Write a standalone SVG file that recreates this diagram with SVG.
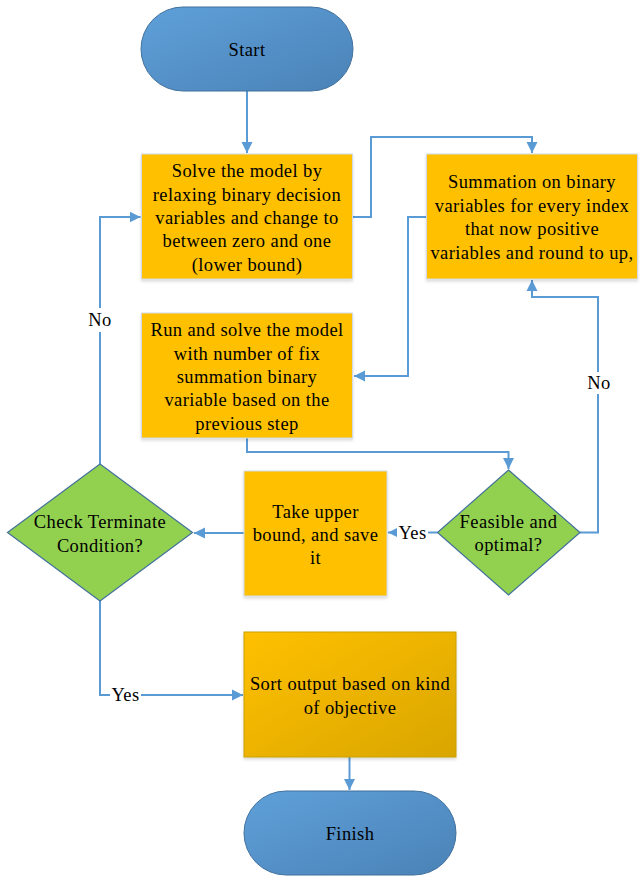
<svg xmlns="http://www.w3.org/2000/svg" width="644" height="884" viewBox="0 0 644 884">
<defs>
<style>
.t{font-family:"Liberation Serif","Times New Roman",serif;font-size:18.5px;letter-spacing:0.4px;fill:#000;text-anchor:middle}
.conn{fill:none;stroke:#5B9BD5;stroke-width:2}
.box{fill:#FFC000;stroke:#D3DAE3;stroke-width:1;filter:url(#sh)}
.term{fill:url(#blue);stroke:#41719C;stroke-width:1}
.dia{fill:#92D050;stroke:#41719C;stroke-width:1.2}
.lblbg{fill:#fff}
</style>
<linearGradient id="blue" x1="0" y1="0" x2="1" y2="1">
<stop offset="0" stop-color="#5FA0DA"/>
<stop offset="1" stop-color="#4A82B6"/>
</linearGradient>
<linearGradient id="gold" x1="0" y1="0" x2="1" y2="1">
<stop offset="0" stop-color="#FFC000"/>
<stop offset="1" stop-color="#D9A600"/>
</linearGradient>
<filter id="sh" x="-10%" y="-10%" width="120%" height="125%">
<feDropShadow dx="0" dy="2" stdDeviation="1.5" flood-color="#000" flood-opacity="0.15"/>
</filter>
<marker id="arr" markerUnits="userSpaceOnUse" markerWidth="12" markerHeight="12" viewBox="0 0 12 12" refX="11" refY="6" orient="auto">
<path d="M0,0.5 L11,6 L0,11.5 Z" fill="#5B9BD5"/>
</marker>
</defs>

<g id="connectors">
<path class="conn" d="M247,91 V153" marker-end="url(#arr)"/>
<path class="conn" d="M353,217 H371 V137 H532 V153" marker-end="url(#arr)"/>
<path class="conn" d="M426,217 H408 V376 H354" marker-end="url(#arr)"/>
<path class="conn" d="M247,438 V452 H508.5 V469" marker-end="url(#arr)"/>
<path class="conn" d="M437.5,532.5 H388" marker-end="url(#arr)"/>
<path class="conn" d="M580,532.5 H598 V297 H532 V280" marker-end="url(#arr)"/>
<path class="conn" d="M244,533 H194" marker-end="url(#arr)"/>
<path class="conn" d="M100,464 V217 H140.5" marker-end="url(#arr)"/>
<path class="conn" d="M100,601 V695 H243" marker-end="url(#arr)"/>
<path class="conn" d="M349.5,757 V790" marker-end="url(#arr)"/>
<rect class="lblbg" x="397" y="522" width="31" height="22"/>
<text class="t" x="412.5" y="539">Yes</text>
<rect class="lblbg" x="587" y="372" width="23" height="22"/>
<text class="t" x="599" y="389">No</text>
<rect class="lblbg" x="88" y="308" width="24" height="24"/>
<text class="t" x="100" y="326">No</text>
<rect class="lblbg" x="110" y="684" width="31" height="22"/>
<text class="t" x="125.5" y="701">Yes</text>
</g>

<g id="start">
<rect class="term" x="141" y="7" width="212" height="84" rx="42" ry="42"/>
<text class="t" x="247" y="56">Start</text>
</g>

<g id="relax">
<rect class="box" x="141.5" y="154" width="211" height="125"/>
<text class="t" x="247" y="177">Solve the model by</text>
<text class="t" x="247" y="200.5">relaxing binary decision</text>
<text class="t" x="247" y="224">variables and change to</text>
<text class="t" x="247" y="247">between zero and one</text>
<text class="t" x="247" y="270.5">(lower bound)</text>
</g>

<g id="summation">
<rect class="box" x="426.5" y="154" width="211" height="125"/>
<text class="t" x="532" y="188">Summation on binary</text>
<text class="t" x="532" y="211.5">variables for every index</text>
<text class="t" x="532" y="235">that now positive</text>
<text class="t" x="532" y="258.5">variables and round to up,</text>
</g>

<g id="runsolve">
<rect class="box" x="141.5" y="313" width="211" height="125"/>
<text class="t" x="247" y="336">Run and solve the model</text>
<text class="t" x="247" y="359.5">with number of fix</text>
<text class="t" x="247" y="383">summation binary</text>
<text class="t" x="247" y="406">variable based on the</text>
<text class="t" x="247" y="429.5">previous step</text>
</g>

<g id="feasible">
<polygon class="dia" points="508.5,470 580,532.5 508.5,595 437.5,532.5"/>
<text class="t" x="508.5" y="527.5">Feasible and</text>
<text class="t" x="508.5" y="551">optimal?</text>
</g>

<g id="upper">
<rect class="box" x="244" y="471" width="143" height="125"/>
<text class="t" x="315.5" y="517.5">Take upper</text>
<text class="t" x="315.5" y="540.5">bound, and save</text>
<text class="t" x="315.5" y="563.5">it</text>
</g>

<g id="check">
<polygon class="dia" points="100,464 192.5,532.5 100,601 7.5,532.5"/>
<text class="t" x="100" y="527.5">Check Terminate</text>
<text class="t" x="100" y="551.5">Condition?</text>
</g>

<g id="sort">
<rect x="244" y="632" width="212" height="125" fill="url(#gold)" stroke="#C9A000" stroke-width="1" filter="url(#sh)"/>
<text class="t" x="350" y="689.5">Sort output based on kind</text>
<text class="t" x="350" y="713.5">of objective</text>
</g>

<g id="finish">
<rect class="term" x="244" y="791" width="212" height="84" rx="42" ry="42"/>
<text class="t" x="350" y="839.5">Finish</text>
</g>
</svg>
